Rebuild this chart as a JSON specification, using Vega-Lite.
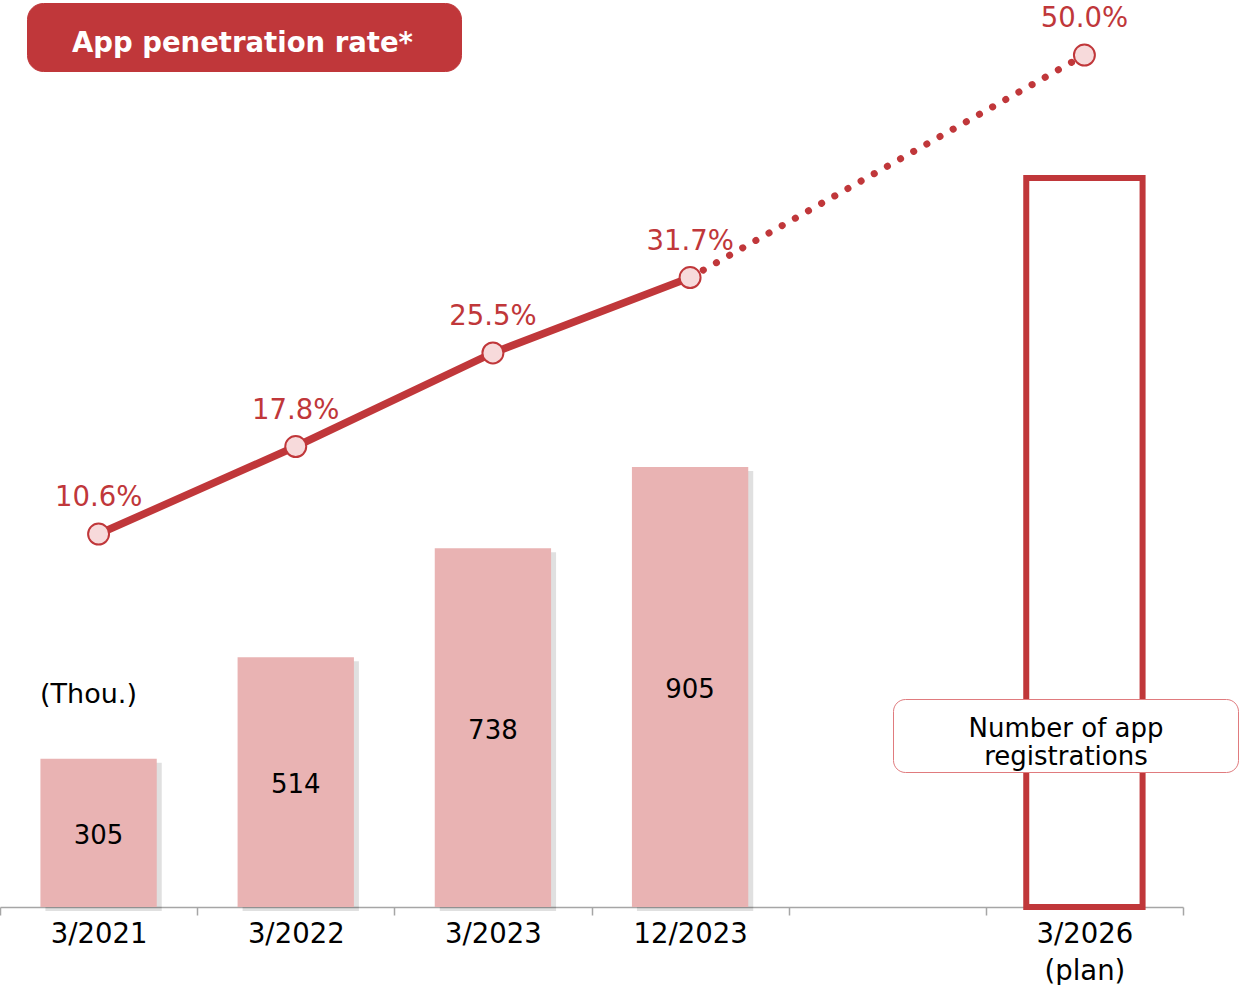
{
  "$schema": "https://vega.github.io/schema/vega-lite/v6.json",
  "width": 1183,
  "height": 907,
  "autosize": {"type": "none"},
  "padding": {"left": 0, "top": 0, "right": 62, "bottom": 78},
  "background": "white",
  "config": {"view": {"stroke": null}, "font": "DejaVu Sans"},
  "data": {
    "values": [
      {"period": "3/2021", "registrations": 305, "rate": 0.106, "type": "actual"},
      {"period": "3/2022", "registrations": 514, "rate": 0.178, "type": "actual"},
      {"period": "3/2023", "registrations": 738, "rate": 0.255, "type": "actual"},
      {"period": "12/2023", "registrations": 905, "rate": 0.317, "type": "actual"},
      {"period": "3/2026 (plan)", "registrations": 1500, "rate": 0.5, "type": "plan"}
    ]
  },
  "encoding": {
    "x": {
      "field": "period",
      "type": "nominal",
      "sort": null,
      "scale": {
        "domain": ["3/2021", "3/2022", "3/2023", "12/2023", " ", "3/2026 (plan)"],
        "paddingInner": 0,
        "paddingOuter": 0
      },
      "axis": {
        "title": null,
        "labelAngle": 0,
        "labelFont": "DejaVu Sans",
        "labelFontSize": 27.5,
        "labelColor": "#000000",
        "labelPadding": 5,
        "labelLineHeight": 37,
        "labelOverlap": false,
        "labelFlush": false,
        "tickSize": 8,
        "tickColor": "#A6A6A6",
        "tickWidth": 1.5,
        "tickBand": "extent",
        "domainColor": "#A6A6A6",
        "domainWidth": 1.5,
        "grid": false,
        "labelExpr": "indexof(datum.label, ' ') > 0 ? split(datum.label, ' ') : datum.label"
      }
    }
  },
  "layer": [
    {
      "transform": [{"filter": "datum.type == 'actual'"}],
      "mark": {"type": "bar", "fill": "#000000", "fillOpacity": 0.12, "xOffset": 5, "yOffset": 4, "width": {"band": 0.59}},
      "encoding": {
        "y": {"field": "registrations", "type": "quantitative", "scale": {"domain": [0, 1866], "nice": false, "zero": true}, "axis": null}
      }
    },
    {
      "transform": [{"filter": "datum.type == 'actual'"}],
      "mark": {"type": "bar", "width": {"band": 0.59}},
      "encoding": {
        "y": {
          "field": "registrations",
          "type": "quantitative",
          "scale": {"domain": [0, 1866], "nice": false, "zero": true},
          "axis": {
            "title": "(Thou.)",
            "titleX": 88,
            "titleY": 694,
            "titleAngle": 0,
            "titleAlign": "center",
            "titleBaseline": "middle",
            "titleFont": "DejaVu Sans",
            "titleFontSize": 27,
            "titleFontWeight": "normal",
            "titleColor": "#000000",
            "labels": false,
            "ticks": false,
            "domain": false,
            "grid": false
          }
        },
        "fill": {
          "datum": "Number of app registrations",
          "type": "nominal",
          "scale": {"range": ["#E9B3B3"]},
          "legend": {
            "orient": "none",
            "legendX": 893,
            "legendY": 699,
            "title": null,
            "fillColor": "#FFFFFF",
            "strokeColor": "#E07B7E",
            "cornerRadius": 12,
            "padding": 2.5,
            "labelColor": "#000000",
            "labelFont": "DejaVu Sans",
            "labelFontSize": 26,
            "labelLimit": 1000,
            "labelAlign": "center",
            "labelBaseline": "top",
            "labelOffset": -169.5,
            "symbolType": "circle",
            "symbolOpacity": 0,
            "symbolSize": 784,
            "symbolStrokeWidth": 0,
            "symbolOffset": 312,
            "labelExpr": "[slice(datum.label, 0, 13), slice(datum.label, 14)]"
          }
        }
      }
    },
    {
      "transform": [{"filter": "datum.type == 'plan'"}],
      "mark": {"type": "bar", "fill": "#FFFFFF", "stroke": "#C0373A", "strokeWidth": 6, "width": {"band": 0.59}},
      "encoding": {
        "y": {"field": "registrations", "type": "quantitative", "scale": {"domain": [0, 1866], "nice": false, "zero": true}, "axis": null}
      }
    },
    {
      "transform": [{"filter": "datum.type == 'actual'"}],
      "mark": {"type": "text", "fontSize": 26, "fill": "#000000", "baseline": "middle", "align": "center", "dy": 3, "font": "DejaVu Sans"},
      "encoding": {
        "y": {"field": "registrations", "type": "quantitative", "scale": {"domain": [0, 3732], "nice": false, "zero": true}, "axis": null},
        "text": {"field": "registrations", "type": "quantitative", "format": "d"}
      }
    },
    {
      "transform": [{"filter": "datum.type == 'actual'"}],
      "mark": {"type": "line", "strokeWidth": 7.5, "strokeCap": "butt"},
      "encoding": {
        "y": {"field": "rate", "type": "quantitative", "scale": {"domain": [-0.2008, 0.5453], "nice": false, "zero": false}, "axis": null},
        "order": {"field": "rate", "type": "quantitative"},
        "stroke": {
          "datum": "App penetration rate*",
          "type": "nominal",
          "scale": {"range": ["#C0373A"]},
          "legend": {
            "orient": "none",
            "legendX": 27,
            "legendY": 3,
            "title": null,
            "fillColor": "#C0373A",
            "strokeColor": "#C0373A",
            "cornerRadius": 16,
            "padding": 13,
            "labelColor": "#FFFFFF",
            "labelFont": "DejaVu Sans",
            "labelFontSize": 27.5,
            "labelFontWeight": "bold",
            "labelLimit": 1000,
            "labelBaseline": "top",
            "labelOffset": -384.75,
            "symbolType": "circle",
            "symbolOpacity": 0,
            "symbolSize": 100,
            "symbolStrokeWidth": 0,
            "symbolOffset": 389.25
          }
        }
      }
    },
    {
      "transform": [{"filter": "datum.period == '12/2023' || datum.type == 'plan'"}],
      "mark": {"type": "line", "stroke": "#C0373A", "strokeWidth": 7, "strokeDash": [0.1, 15], "strokeCap": "round"},
      "encoding": {
        "y": {"field": "rate", "type": "quantitative", "scale": {"domain": [-0.2008, 0.5453], "nice": false, "zero": false}, "axis": null},
        "order": {"field": "rate", "type": "quantitative"}
      }
    },
    {
      "mark": {"type": "circle", "fill": "#F7DADB", "fillOpacity": 1, "stroke": "#C0373A", "strokeWidth": 2, "size": 440, "opacity": 1},
      "encoding": {
        "y": {"field": "rate", "type": "quantitative", "scale": {"domain": [-0.2008, 0.5453], "nice": false, "zero": false}, "axis": null}
      }
    },
    {
      "mark": {"type": "text", "fontSize": 27.5, "fill": "#C0373A", "baseline": "alphabetic", "align": "center", "dy": -28, "font": "DejaVu Sans"},
      "encoding": {
        "y": {"field": "rate", "type": "quantitative", "scale": {"domain": [-0.2008, 0.5453], "nice": false, "zero": false}, "axis": null},
        "text": {"field": "rate", "type": "quantitative", "format": ".1%"}
      }
    }
  ],
  "resolve": {"scale": {"y": "independent"}}
}
